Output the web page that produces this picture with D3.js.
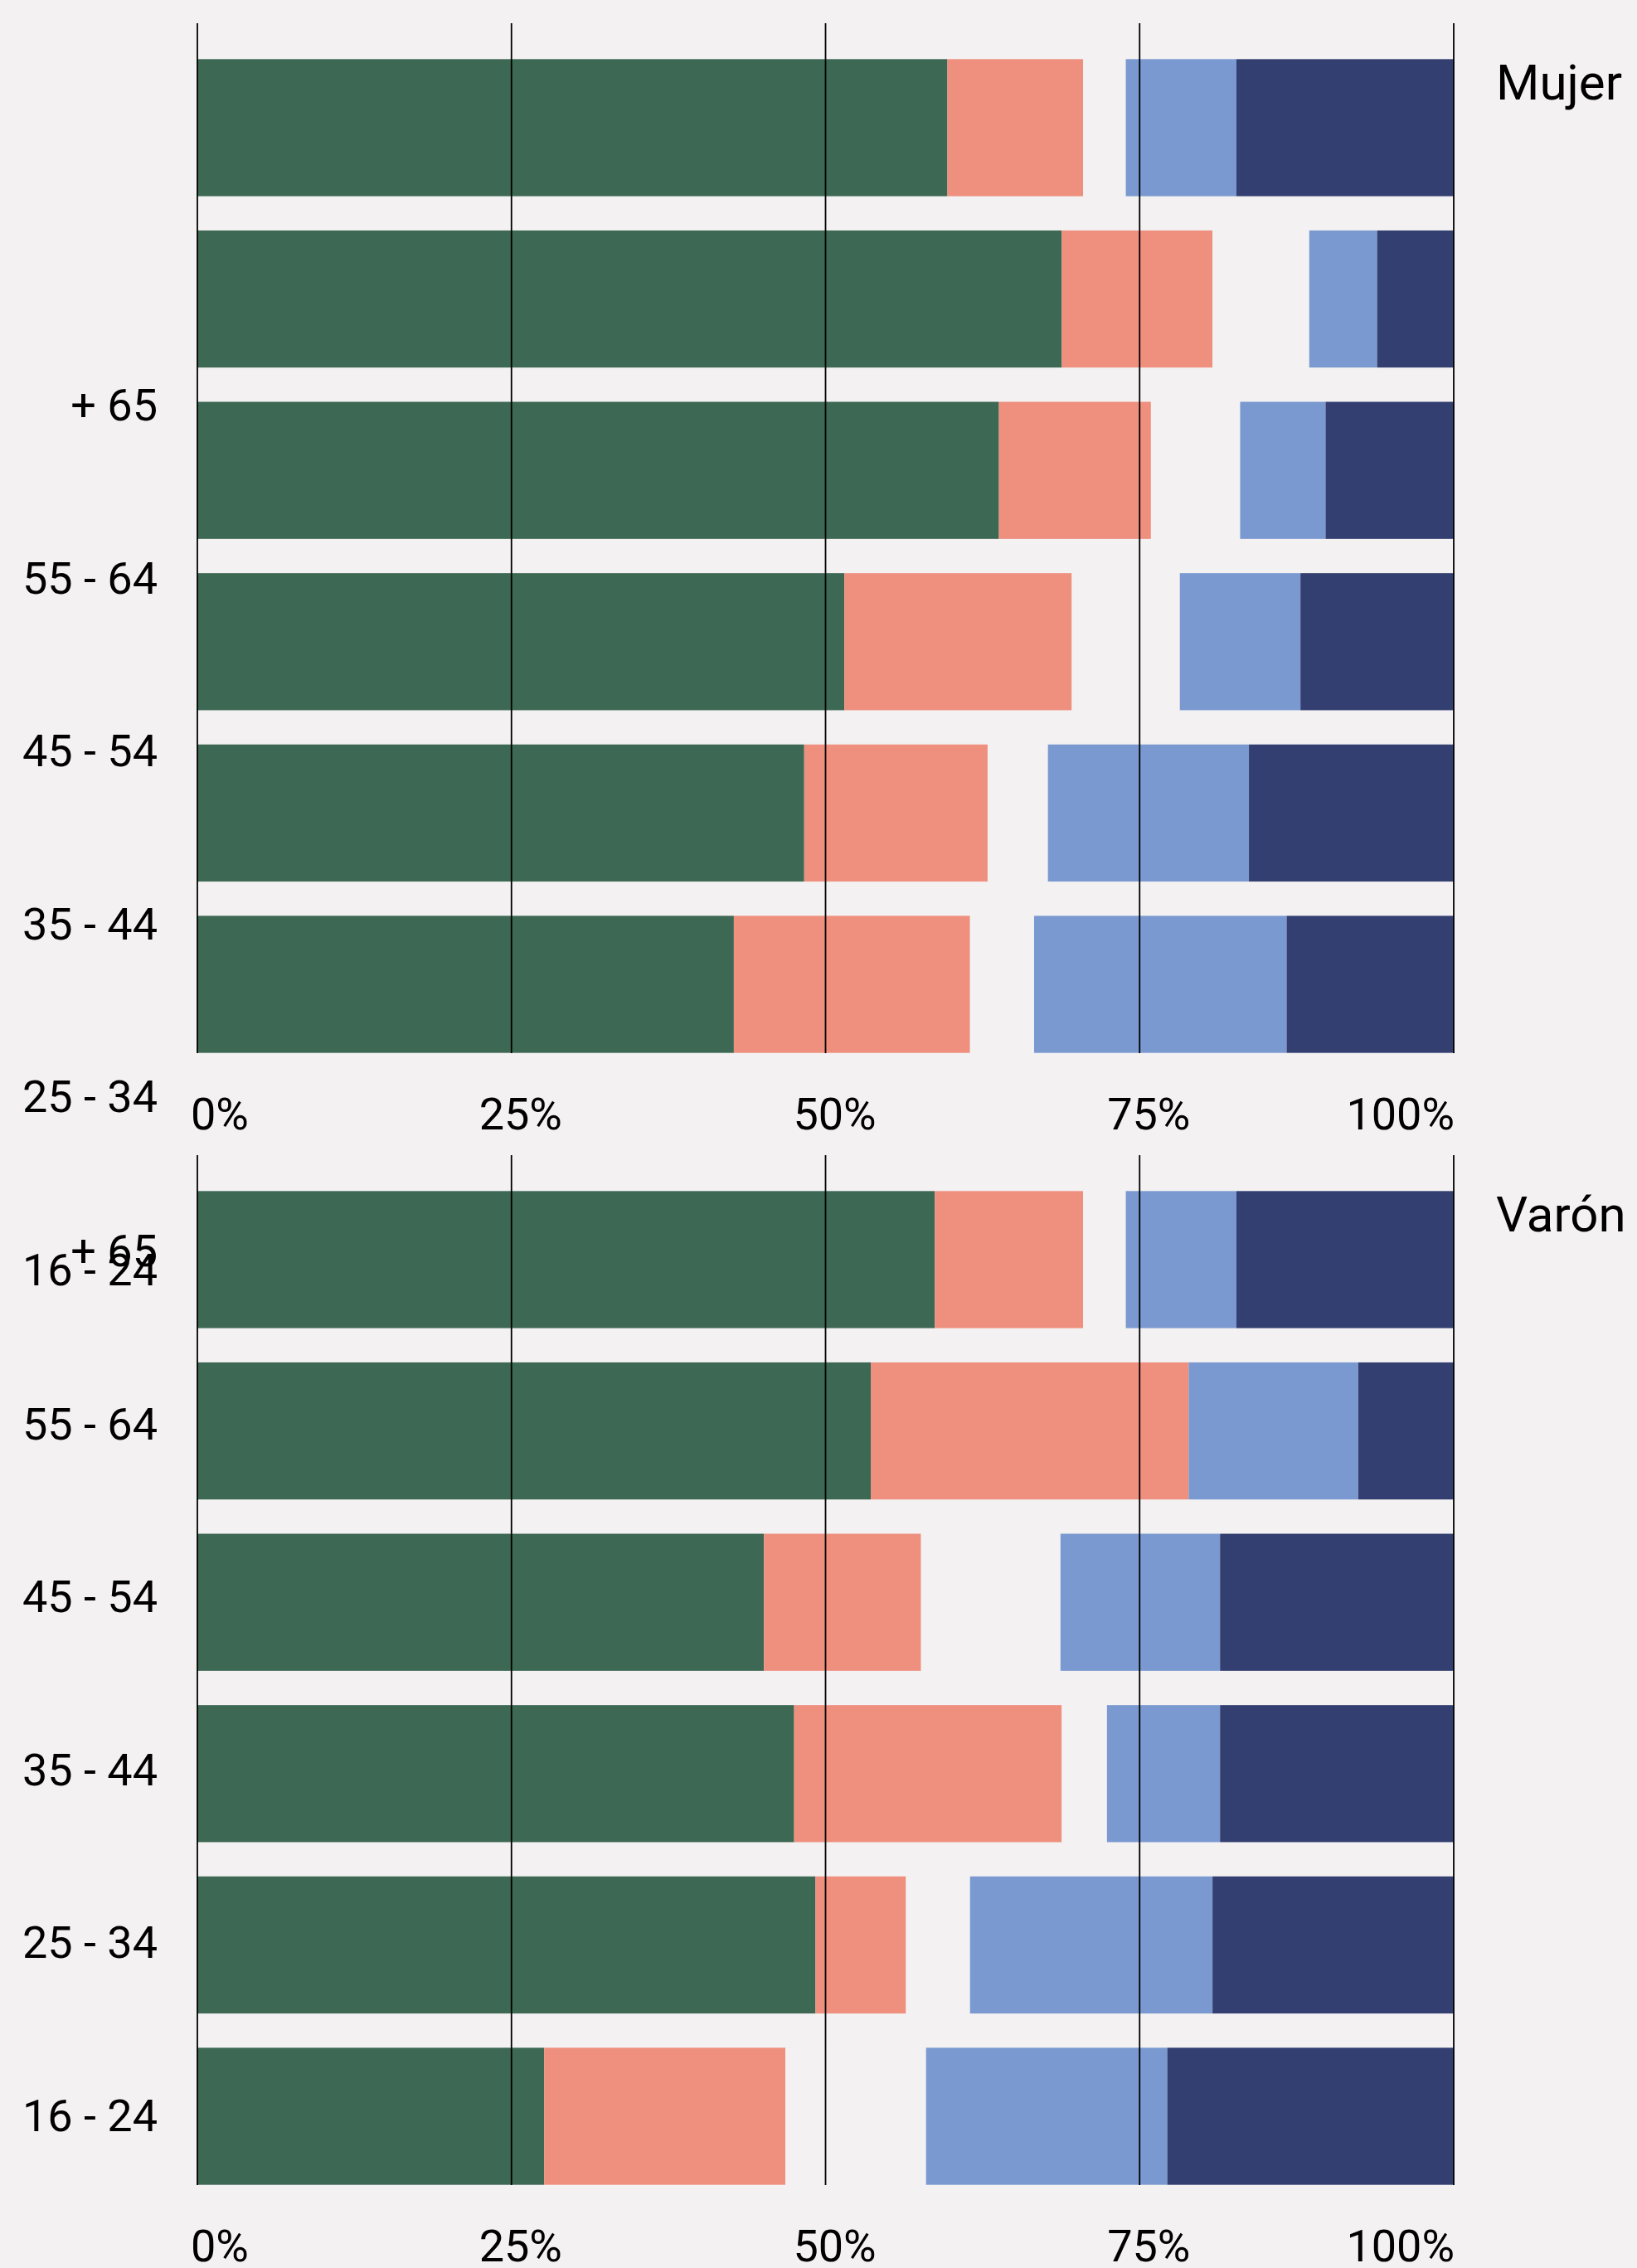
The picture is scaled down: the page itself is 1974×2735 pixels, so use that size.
<!DOCTYPE html>
<html>
<head>
<meta charset="utf-8">
<script src="https://cdn.jsdelivr.net/npm/d3@7"></script>
<style>
  html, body { margin: 0; padding: 0; background: #f3f1f2; }
  svg { display: block; }
  text { font-family: Roboto, "Noto Sans", sans-serif; fill: #000; }
</style>
</head>
<body>
<svg id="chart" width="1974" height="2735"></svg>
<script>
// ---- DATA ----
const categories = ["+ 65", "55 - 64", "45 - 54", "35 - 44", "25 - 34", "16 - 24"];
const seriesKeys = ["verde", "salmon", "hueco", "azul", "marino"];
const panels = ["Mujer", "Varón"];
const tickValues = [0, 25, 50, 75, 100];
const tickLabels = ["0%", "25%", "50%", "75%", "100%"];

// Mujer (percent of each bar)
const mujerVerde  = [59.7, 68.8, 63.8, 51.5, 48.3, 42.7];
const mujerSalmon = [10.8, 12.0, 12.1, 18.1, 14.6, 18.8];
const mujerHueco  = [ 3.4,  7.7,  7.1,  8.6,  4.8,  5.1];
const mujerAzul   = [ 8.8,  5.4,  6.8,  9.6, 16.0, 20.1];
const mujerMarino = [17.3,  6.1, 10.2, 12.2, 16.3, 13.3];

// Varón
const varonVerde  = [58.7, 53.6, 45.1, 47.5, 49.2, 27.6];
const varonSalmon = [11.8, 25.3, 12.5, 21.3,  7.2, 19.2];
const varonHueco  = [ 3.4,  0.0, 11.1,  3.6,  5.1, 11.2];
const varonAzul   = [ 8.8, 13.5, 12.7,  9.0, 19.3, 19.2];
const varonMarino = [17.3,  7.6, 18.6, 18.6, 19.2, 22.8];

// ---- LAYOUT / STYLE ----
const colors = {verde: "#3d6853", salmon: "#ef8f7e", hueco: "#f3f1f2", azul: "#7a99d0", marino: "#333f70"};
const bg = "#f3f1f2";
const xLeft = 238, xRight = 1753;
const panelTop = [28, 1393];
const panelHeight = 1242;
const labelOffset = [375, 30];   // label baseline shift relative to label band centre

function buildTable(arrs) {
  return categories.map((c, i) => {
    const row = {cat: c};
    seriesKeys.forEach((k, j) => row[k] = arrs[j][i]);
    return row;
  });
}
const tables = [
  buildTable([mujerVerde, mujerSalmon, mujerHueco, mujerAzul, mujerMarino]),
  buildTable([varonVerde, varonSalmon, varonHueco, varonAzul, varonMarino])
];

const svg = d3.select("#chart");
svg.append("rect").attr("width", 1974).attr("height", 2735).attr("fill", bg);

const x = d3.scaleLinear().domain([0, 100]).range([xLeft, xRight]);

panels.forEach((name, p) => {
  const top = panelTop[p];
  const g = svg.append("g");
  const y = d3.scaleBand().domain(categories)
    .range([top + 2, top + 2 + 1281]).paddingInner(0.2).paddingOuter(0.2);

  const stacked = d3.stack().keys(seriesKeys)(tables[p]);
  g.selectAll("g.series").data(stacked).join("g")
    .attr("class", "series")
    .attr("fill", d => colors[d.key])
    .selectAll("rect").data(d => d).join("rect")
      .attr("x", d => x(d[0]))
      .attr("width", d => Math.max(0, x(d[1]) - x(d[0])))
      .attr("y", d => y(d.data.cat))
      .attr("height", y.bandwidth());

  // gridlines
  g.selectAll("line.grid").data(tickValues).join("line")
    .attr("class", "grid")
    .attr("x1", d => x(d)).attr("x2", d => x(d))
    .attr("y1", top).attr("y2", top + panelHeight)
    .attr("stroke", "#000").attr("stroke-width", 1.8);

  // x tick labels
  g.selectAll("text.tick").data(tickValues).join("text")
    .attr("class", "tick")
    .attr("x", (d, i) => x(d) + (i === 0 ? -8 : (i === tickValues.length - 1 ? 1 : 11)))
    .attr("y", top + panelHeight + 92)
    .attr("text-anchor", (d, i) => i === 0 ? "start" : (i === tickValues.length - 1 ? "end" : "middle"))
    .attr("font-size", 54)
    .text((d, i) => tickLabels[i]);

  // y category labels
  const yl = d3.scaleBand().domain(categories).range([top, top + 6 * 208.5]);
  g.selectAll("text.cat").data(categories).join("text")
    .attr("class", "cat")
    .attr("x", 190)
    .attr("y", d => yl(d) + yl.bandwidth() / 2 + labelOffset[p])
    .attr("text-anchor", "end")
    .attr("font-size", 54)
    .text(d => d);

  // panel title
  g.append("text")
    .attr("x", 1804).attr("y", top + 92)
    .attr("font-size", 60)
    .text(name);
});
</script>
</body>
</html>
